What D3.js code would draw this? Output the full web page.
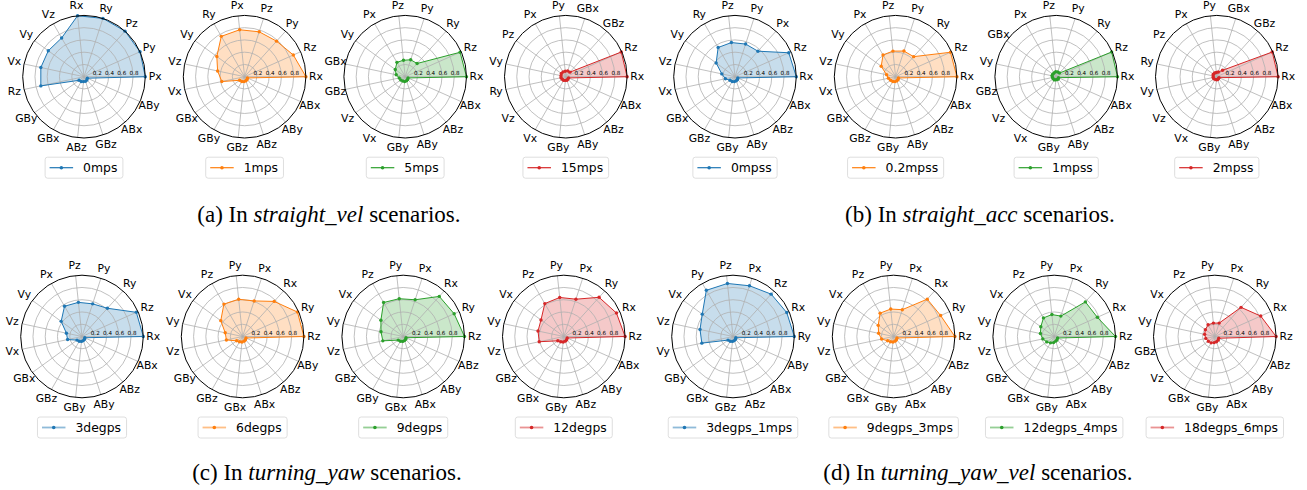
<!DOCTYPE html>
<html>
<head>
<meta charset="utf-8">
<script src="https://cdn.jsdelivr.net/npm/d3@7"></script>
<style>
  body { margin: 0; background: #fff; }
  svg text { font-family: "DejaVu Sans", sans-serif; }
</style>
</head>
<body>
<svg id="fig" width="1307" height="490"></svg>
<script>
// legend names, one per radar (row by row)
const seriesNames = [
  "0mps", "1mps", "5mps", "15mps",
  "0mpss", "0.2mpss", "1mpss", "2mpss",
  "3degps", "6degps", "9degps", "12degps",
  "3degps_1mps", "9degps_3mps", "12degps_4mps", "18degps_6mps"
];

// axis labels of every radar, counter-clockwise starting at 3 o'clock
const axisOrders = [
  ["Px","Py","Pz","Ry","Rx","Vz","Vy","Vx","Rz","GBy","GBx","ABz","GBz","ABx","ABy"],
  ["Rx","Rz","Py","Pz","Px","Ry","Vy","Vz","Vx","GBx","GBy","GBz","ABz","ABy","ABx"],
  ["Rx","Rz","Ry","Py","Pz","Px","Vy","GBx","GBz","Vz","Vx","GBy","ABy","ABz","ABx"],
  ["Rx","Rz","GBz","GBx","Py","Px","Pz","Vy","Ry","Vz","Vx","GBy","ABy","ABz","ABx"],
  ["Rx","Rz","Px","Py","Pz","Ry","Vy","Vz","Vx","GBx","GBz","GBy","ABy","ABz","ABx"],
  ["Rx","Rz","Ry","Py","Pz","Px","Vy","Vz","Vx","GBx","GBz","GBy","ABy","ABz","ABx"],
  ["Rx","Rz","Ry","Py","Pz","Px","GBx","Vy","GBz","Vz","Vx","GBy","ABy","ABz","ABx"],
  ["Rx","Rz","GBz","GBx","Py","Px","Pz","Ry","Vy","Vz","Vx","GBy","ABy","ABz","ABx"],
  ["Rx","Rz","Ry","Py","Pz","Px","Vy","Vz","Vx","GBx","GBz","GBy","ABy","ABz","ABx"],
  ["Rz","Ry","Rx","Px","Py","Pz","Vx","Vy","Vz","GBy","GBz","GBx","ABx","ABz","ABy"],
  ["Rz","Ry","Rx","Px","Py","Pz","Vx","Vy","Vz","GBz","GBy","GBx","ABx","ABy","ABz"],
  ["Rz","Rx","Ry","Px","Py","Pz","Vx","Vy","Vz","GBz","GBx","GBy","ABz","ABy","ABx"],
  ["Ry","Rx","Rz","Px","Pz","Py","Vx","Vz","Vy","GBy","GBx","GBz","ABz","ABx","ABy"],
  ["Rz","Ry","Rx","Px","Py","Pz","Vx","Vy","Vz","GBz","GBx","GBy","ABx","ABy","ABz"],
  ["Rz","Rx","Ry","Px","Py","Pz","Vx","Vy","Vz","GBz","GBx","GBy","ABx","ABy","ABz"],
  ["Rz","Rx","Ry","Px","Py","Pz","Vx","Vy","GBz","Vz","GBx","GBy","ABx","ABy","ABz"]
];

// values in the same order as the labels above
const seriesValues = [
  [1, 1, 1, 1, 1, 0.73, 0.72, 0.72, 0.72, 0.1, 0.09, 0.08, 0.08, 0.07, 0.06],
  [1, 0.87, 0.78, 0.77, 0.77, 0.76, 0.56, 0.45, 0.38, 0.1, 0.09, 0.08, 0.07, 0.06, 0.05],
  [1, 0.98, 0.29, 0.29, 0.27, 0.27, 0.2, 0.15, 0.1, 0.09, 0.08, 0.08, 0.07, 0.06, 0.05],
  [1, 0.99, 0.1, 0.1, 0.09, 0.09, 0.09, 0.08, 0.08, 0.07, 0.07, 0.06, 0.06, 0.05, 0.05],
  [1, 0.96, 0.56, 0.56, 0.56, 0.55, 0.38, 0.22, 0.16, 0.1, 0.09, 0.08, 0.07, 0.06, 0.05],
  [1, 0.98, 0.44, 0.44, 0.42, 0.41, 0.29, 0.15, 0.12, 0.1, 0.09, 0.08, 0.07, 0.06, 0.05],
  [1, 0.99, 0.08, 0.08, 0.08, 0.07, 0.07, 0.07, 0.06, 0.06, 0.06, 0.05, 0.05, 0.05, 0.04],
  [1, 0.99, 0.14, 0.08, 0.07, 0.07, 0.07, 0.06, 0.06, 0.06, 0.05, 0.05, 0.05, 0.04, 0.04],
  [1, 0.97, 0.62, 0.56, 0.56, 0.57, 0.42, 0.26, 0.24, 0.1, 0.09, 0.08, 0.07, 0.06, 0.05],
  [1, 0.98, 0.77, 0.61, 0.61, 0.61, 0.44, 0.29, 0.27, 0.12, 0.1, 0.09, 0.08, 0.07, 0.06],
  [1, 0.91, 0.88, 0.63, 0.62, 0.64, 0.45, 0.37, 0.34, 0.1, 0.09, 0.08, 0.07, 0.06, 0.05],
  [1, 0.94, 0.86, 0.64, 0.64, 0.62, 0.46, 0.43, 0.41, 0.12, 0.1, 0.09, 0.08, 0.07, 0.06],
  [1, 0.96, 0.93, 0.87, 0.87, 0.87, 0.62, 0.55, 0.52, 0.1, 0.09, 0.08, 0.07, 0.06, 0.05],
  [1, 0.84, 0.82, 0.46, 0.45, 0.44, 0.31, 0.25, 0.2, 0.12, 0.1, 0.09, 0.08, 0.07, 0.06],
  [1, 0.77, 0.76, 0.35, 0.36, 0.35, 0.27, 0.23, 0.19, 0.15, 0.12, 0.1, 0.08, 0.07, 0.06],
  [1, 0.82, 0.64, 0.23, 0.22, 0.22, 0.19, 0.17, 0.15, 0.13, 0.12, 0.1, 0.09, 0.08, 0.07]
];

const radialTicks = [0.2, 0.4, 0.6, 0.8];
const captionLetters = ["a", "b", "c", "d"];
const captionScenarios = ["straight_vel", "straight_acc", "turning_yaw", "turning_yaw_vel"];

const colors = ["#1f77b4", "#ff7f0e", "#2ca02c", "#d62728"];

//layout
const R = 61.3;
const groupLeft = [84, 735];
const step = 160.6;
const rowTop = [76.7, 336.5];
const captionY = [222, 480];

const svg = d3.select("#fig");

const rScale = d3.scaleLinear().domain([0, 1]).range([0, R]);
const aScale = d3.scaleLinear().domain([0, 15]).range([0, 2 * Math.PI]);

function drawRadar(k) {
  const row = Math.floor(k / 8);
  const grp = Math.floor((k % 8) / 4);
  const pos = k % 4;
  const cx = groupLeft[grp] + pos * step - row * 2;
  const cy = rowTop[row];
  const color = colors[pos];
  const labels = axisOrders[k];
  const vals = seriesValues[k];

  const g = svg.append("g").attr("transform", `translate(${cx},${cy})`);

  // matplotlib angle -> d3 radial angle
  const ang = i => Math.PI / 2 - aScale(i);

  const line = d3.lineRadial()
    .angle((d, i) => ang(i))
    .radius(d => rScale(d))
    .curve(d3.curveLinearClosed);

  g.append("path")
    .attr("d", line(vals))
    .style("fill", color)
    .style("fill-opacity", 0.25)
    .style("stroke", "none");

  // grid
  g.selectAll(".ring").data(radialTicks).enter()
    .append("circle")
    .attr("r", d => rScale(d))
    .style("fill", "none")
    .style("stroke", "#b0b0b0")
    .style("stroke-width", 0.8);

  g.selectAll(".spoke").data(labels).enter()
    .append("line")
    .attr("x1", 0).attr("y1", 0)
    .attr("x2", (d, i) => rScale(1) * Math.cos(aScale(i)))
    .attr("y2", (d, i) => -rScale(1) * Math.sin(aScale(i)))
    .style("stroke", "#b0b0b0")
    .style("stroke-width", 0.8);

  g.append("path")
    .attr("d", line(vals))
    .style("fill", "none")
    .style("stroke", color)
    .style("stroke-width", 1);

  g.selectAll(".pt").data(vals).enter()
    .append("circle")
    .attr("cx", (d, i) => rScale(d) * Math.cos(aScale(i)))
    .attr("cy", (d, i) => -rScale(d) * Math.sin(aScale(i)))
    .attr("r", 1.7)
    .style("fill", color);

  // outer spine
  g.append("circle")
    .attr("r", rScale(1))
    .style("fill", "none")
    .style("stroke", "#000")
    .style("stroke-width", 1);

  g.selectAll(".rtick").data(radialTicks).enter()
    .append("text")
    .attr("x", d => rScale(d) + 1)
    .attr("y", -1.6)
    .attr("text-anchor", "middle")
    .style("font-size", "5.6px")
    .text(d => d.toFixed(1));

  g.selectAll(".lab").data(labels).enter()
    .append("text")
    .attr("x", (d, i) => (R + 10) * Math.cos(aScale(i)))
    .attr("y", (d, i) => -(R + 10) * Math.sin(aScale(i)))
    .attr("text-anchor", "middle")
    .attr("dominant-baseline", "central")
    .style("font-size", "10.8px")
    .text(d => d);

  // legend
  const lg = g.append("g").attr("transform", `translate(0,${91})`);
  const box = lg.append("rect");
  const txt = lg.append("text")
    .attr("dominant-baseline", "central")
    .style("font-size", "12.4px")
    .text(seriesNames[k]);
  const tw = txt.node().getComputedTextLength();
  const w = 4.5 + 23.5 + 10 + tw + 5.5;
  const x0 = -w / 2;
  box.attr("x", x0).attr("y", -10.5).attr("width", w).attr("height", 21)
    .attr("rx", 2.5)
    .style("fill", "#fff")
    .style("stroke", "#d5d5d5")
    .style("stroke-width", 0.8);
  lg.append("line")
    .attr("x1", x0 + 4.5).attr("x2", x0 + 28)
    .attr("y1", 0).attr("y2", 0)
    .style("stroke", color)
    .style("stroke-opacity", row === 1 ? 0.5 : 1)
    .style("stroke-width", row === 1 ? 1.8 : 1.2);
  lg.append("circle")
    .attr("cx", x0 + 16.25).attr("cy", 0).attr("r", 1.8)
    .style("fill", color);
  txt.attr("x", x0 + 38);
}

for (let k = 0; k < 16; k++) drawRadar(k);

// captions
captionLetters.forEach((c, j) => {
  const grp = j % 2, row = Math.floor(j / 2);
  const cx = groupLeft[grp] + 1.5 * step + 4 - row * 2;
  const t = svg.append("text")
    .attr("x", cx)
    .attr("y", captionY[row])
    .attr("text-anchor", "middle")
    .style("font-family", "'Liberation Serif', 'Times New Roman', serif")
    .style("font-size", "23px");
  t.append("tspan").text(`(${c}) In `);
  t.append("tspan").style("font-style", "italic").text(captionScenarios[j]);
  t.append("tspan").text(" scenarios.");
});
</script>
</body>
</html>
